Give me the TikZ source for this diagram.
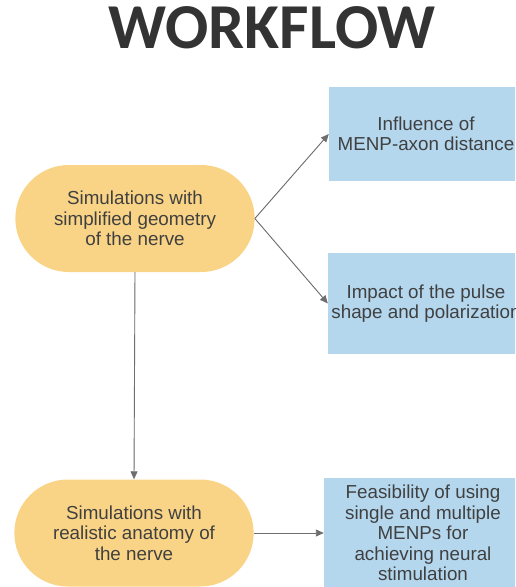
\documentclass[tikz,border=0pt]{standalone}
\usepackage{fontspec}
\setmainfont{Liberation Sans}
\newfontfamily\titlefont{Carlito}
\usepackage{xcolor}
\usetikzlibrary{shapes.misc, arrows.meta, positioning}
\definecolor{simyellow}{HTML}{FAD486}
\definecolor{resblue}{HTML}{B4D7EE}
\definecolor{txtgray}{HTML}{404040}
\definecolor{linegray}{HTML}{6E6E6E}
\tikzset{
    sim/.style={rounded rectangle, fill=simyellow, minimum width=246pt, minimum height=107pt, align=center, text=txtgray, font=\fontsize{18.8}{20.5}\selectfont},
    res/.style={rectangle, fill=resblue, minimum width=194pt, align=center, text=txtgray, font=\fontsize{18.8}{20.5}\selectfont},
    arrow/.style={-{Triangle[length=8pt, width=7pt]}, draw=linegray, fill=linegray, line width=0.9pt}
}
\begin{document}
\begin{tikzpicture}[x=1pt, y=-1pt]
    \useasboundingbox (0,0) rectangle (515,587);
    \clip (0,0) rectangle (515,587);

    % Title
    \node[font=\titlefont\bfseries\fontsize{64}{64}\selectfont, text=black!80] (title) at (272, 27.5) {WORKFLOW};

    % Simulations
    \node[sim] (simple) at (135, 218.5) {Simulations with\\simplified geometry\\of the nerve};
    \node[sim] (real) at (134, 533) {Simulations with\\realistic anatomy of\\the nerve};

    % Results
    \node[res, minimum height=94pt] (dist) at (426, 134) {Influence of\\MENP-axon distance};
    \node[res, minimum height=101pt] (pulse) at (426, 303.5) {Impact of the pulse\\shape and polarization};
    \node[res, minimum width=198pt, minimum height=110pt] (feas) at (423, 533) {Feasibility of using\\single and multiple\\MENPs for\\achieving neural\\stimulation};

    % Connections
    \draw[arrow] (simple.east) -- (dist.west);
    \draw[arrow] (simple.east) -- (pulse.west);
    \draw[arrow] (simple.south) -- (real.north);
    \draw[arrow] (real.east) -- (feas.west);
\end{tikzpicture}
\end{document}
